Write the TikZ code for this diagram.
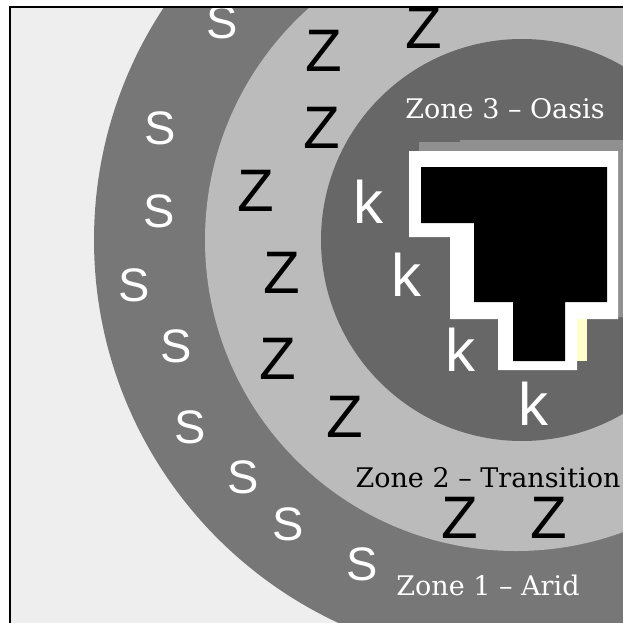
\documentclass[tikz,border=0pt]{standalone}
\usepackage{fontspec}
\newfontfamily\lsans{Liberation Sans}
\newfontfamily\dserif{DejaVu Serif}
\definecolor{bgc}{HTML}{EEEEEE}
\definecolor{ringa}{HTML}{777777}
\definecolor{ringb}{HTML}{BBBBBB}
\definecolor{ringc}{HTML}{676767}
\definecolor{shadowc}{HTML}{909090}
\definecolor{paley}{HTML}{FFFFCC}
\tikzset{
  sletter/.style={font=\lsans\fontsize{47}{47}\selectfont, text=white, inner sep=0pt},
  zletter/.style={font=\lsans\fontsize{60}{60}\selectfont, text=black, inner sep=0pt},
  kletter/.style={font=\lsans\fontsize{60}{60}\selectfont, text=white, inner sep=0pt},
  zonelabel/.style={font=\dserif\fontsize{27}{27}\selectfont, inner sep=0pt, anchor=base}
}
\begin{document}
\begin{tikzpicture}[x=1pt,y=-1pt]
\useasboundingbox (0,0) rectangle (623,623);
\fill[white] (0,0) rectangle (623,623);
\begin{scope}
\clip (10,7) rectangle (623,623);
\fill[bgc] (10,7) rectangle (623,623);
\fill[ringa] (516,240) circle[radius=422pt];
\fill[ringb] (516,240) circle[radius=311pt];
\fill[ringc] (522,240) circle[radius=201pt];
% pool
\fill[shadowc] (419,142) -- (460,142) -- (460,140) -- (630,140) -- (630,317) -- (560,317) -- (560,230) -- (419,230) -- cycle;
\fill[paley] (577,319) rectangle (587,361);
\fill[white] (409,151) -- (618,151) -- (618,319) -- (577,319) -- (577,370) -- (498,370) -- (498,319) -- (450,319) -- (450,237) -- (409,237) -- cycle;
\fill[black] (421,167) -- (607,167) -- (607,302) -- (565,302) -- (565,361) -- (513,361) -- (513,302) -- (474,302) -- (474,223) -- (421,223) -- cycle;
% letters
\node[sletter] (s1) at (222,22) {S};
\node[sletter] (s2) at (160,128) {S};
\node[sletter] (s3) at (159,211) {S};
\node[sletter] (s4) at (134,285) {S};
\node[sletter] (s5) at (176,346) {S};
\node[sletter] (s6) at (190,427) {S};
\node[sletter] (s7) at (243,477) {S};
\node[sletter] (s8) at (288,524) {S};
\node[sletter] (s9) at (362,564) {S};
\node[zletter] (z1) at (424,28) {Z};
\node[zletter] (z2) at (324,51) {Z};
\node[zletter] (z3) at (322,128) {Z};
\node[zletter] (z4) at (256,191) {Z};
\node[zletter] (z5) at (282,273) {Z};
\node[zletter] (z6) at (278,359) {Z};
\node[zletter] (z7) at (345,417) {Z};
\node[zletter] (z8) at (460,518) {Z};
\node[zletter] (z9) at (549,518) {Z};
\node[kletter] (k1) at (368,202) {k};
\node[kletter] (k2) at (406,275) {k};
\node[kletter] (k3) at (460,350) {k};
\node[kletter] (k4) at (533,404) {k};
\node[zonelabel, text=white] (zone3) at (505,118) {Zone 3 – Oasis};
\node[zonelabel, text=black] (zone2) at (488,487) {Zone 2 – Transition};
\node[zonelabel, text=white] (zone1) at (488,595) {Zone 1 – Arid};
\end{scope}
\draw[line width=2.5pt] (10,640) -- (10,7) -- (640,7);
\end{tikzpicture}
\end{document}
